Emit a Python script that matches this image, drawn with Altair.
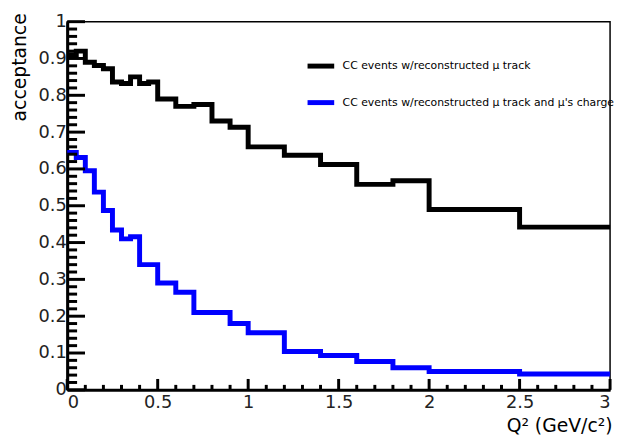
import altair as alt
import numpy as np
import pandas as pd

# Bin edges of the Q^2 histogram (GeV/c)^2
edges = [0, 0.05, 0.1, 0.15, 0.2, 0.25, 0.3, 0.35, 0.4, 0.45, 0.5, 0.6, 0.7, 0.8,
         0.9, 1.0, 1.2, 1.4, 1.6, 1.8, 2.0, 2.5, 3.0]
# acceptance per bin
black_vals = [0.91, 0.92, 0.89, 0.881, 0.872, 0.836, 0.832, 0.85, 0.832, 0.836, 0.79,
              0.77, 0.775, 0.73, 0.713, 0.66, 0.637, 0.612, 0.558, 0.568, 0.49, 0.442]
blue_vals = [0.645, 0.631, 0.595, 0.537, 0.487, 0.434, 0.41, 0.416, 0.34, 0.34, 0.29,
             0.265, 0.21, 0.21, 0.18, 0.155, 0.104, 0.093, 0.077, 0.06, 0.05, 0.043]
series_names = ["CC events w/reconstructed \u03bc track",
                "CC events w/reconstructed \u03bc track and \u03bc's charge"]
series_colors = ["#000000", "#0000ff"]

x_ticklabels = [0, 0.5, 1, 1.5, 2, 2.5, 3]
y_ticklabels = [0, 0.1, 0.2, 0.3, 0.4, 0.5, 0.6, 0.7, 0.8, 0.9, 1.0]

W, H = 550, 373
FONT = "DejaVu Sans"

rows = []
for name, vals in zip(series_names, [black_vals, blue_vals]):
    xs = edges[:-1] + [edges[-1]]
    ys = vals + [vals[-1]]
    for i, (x, y) in enumerate(zip(xs, ys)):
        rows.append({"series": name, "q2": x, "acc": y, "order": i})
hist = pd.DataFrame(rows)

xscale = alt.Scale(domain=[0, 3], nice=False, zero=False)
yscale = alt.Scale(domain=[0, 1], nice=False, zero=False)

x_axis = alt.Axis(values=x_ticklabels, format="~g", title="Q\u00b2 (GeV/c\u00b2)",
                  titleX=W + 2, titleY=42, titleAlign="right",
                  titleBaseline="alphabetic", titleFontSize=19)
y_axis = alt.Axis(values=y_ticklabels, format="~g", title="acceptance",
                  titleAngle=-90, titleX=-57, titleY=-9, titleAlign="right",
                  titleBaseline="top", titleFontSize=19, labelPadding=1)

lines = alt.Chart(hist).mark_line(interpolate="step-after", strokeWidth=5, strokeJoin="miter").encode(
    x=alt.X("q2:Q", scale=xscale, axis=x_axis),
    y=alt.Y("acc:Q", scale=yscale, axis=y_axis),
    color=alt.Color("series:N", scale=alt.Scale(domain=series_names, range=series_colors),
                    legend=alt.Legend(orient="none", legendX=241, legendY=29, title=None,
                                      symbolType="stroke", symbolStrokeWidth=5,
                                      symbolSize=729, labelFontSize=11, labelFont=FONT,
                                      labelLimit=0, rowPadding=11, labelOffset=6,
                                      labelColor="#000")),
    order="order:Q",
)

yt = pd.DataFrame({"v": np.round(np.arange(0, 1.0001, 0.02), 3)})
yt["major"] = (np.round(yt["v"] * 10, 6) % 1 == 0)
xt = pd.DataFrame({"v": np.round(np.arange(0, 3.0001, 0.1), 3)})
xt["major"] = (np.round(xt["v"] * 2, 6) % 1 == 0)

ymaj = alt.Chart(yt[yt.major]).mark_rule(strokeWidth=3, color="black").encode(
    y=alt.Y("v:Q", scale=yscale, axis=y_axis), x=alt.value(0), x2=alt.value(18))
ymin = alt.Chart(yt[~yt.major]).mark_rule(strokeWidth=3, color="black").encode(
    y=alt.Y("v:Q", scale=yscale, axis=y_axis), x=alt.value(0), x2=alt.value(10))
xmaj = alt.Chart(xt[xt.major]).mark_rule(strokeWidth=3, color="black").encode(
    x=alt.X("v:Q", scale=xscale, axis=x_axis), y=alt.value(H), y2=alt.value(H - 11))
xmin = alt.Chart(xt[~xt.major]).mark_rule(strokeWidth=3, color="black").encode(
    x=alt.X("v:Q", scale=xscale, axis=x_axis), y=alt.value(H), y2=alt.value(H - 5))

chart = alt.layer(lines, ymaj, ymin, xmaj, xmin).properties(
    width=W, height=H,
    autosize=alt.AutoSizeParams(type="none"),
    padding={"left": 60, "top": 11, "right": 5, "bottom": 49},
).configure_view(stroke="black", strokeWidth=1.5).configure_axis(
    grid=False, ticks=False, domain=True, domainColor="black", domainWidth=3,
    labelFont=FONT, labelFontSize=18, labelColor="#222",
    titleFont=FONT, titleFontWeight="normal", titleColor="#000",
).configure_axisX(labelPadding=4)

chart.save("out.html", embed_options={"renderer": "svg", "actions": False})
